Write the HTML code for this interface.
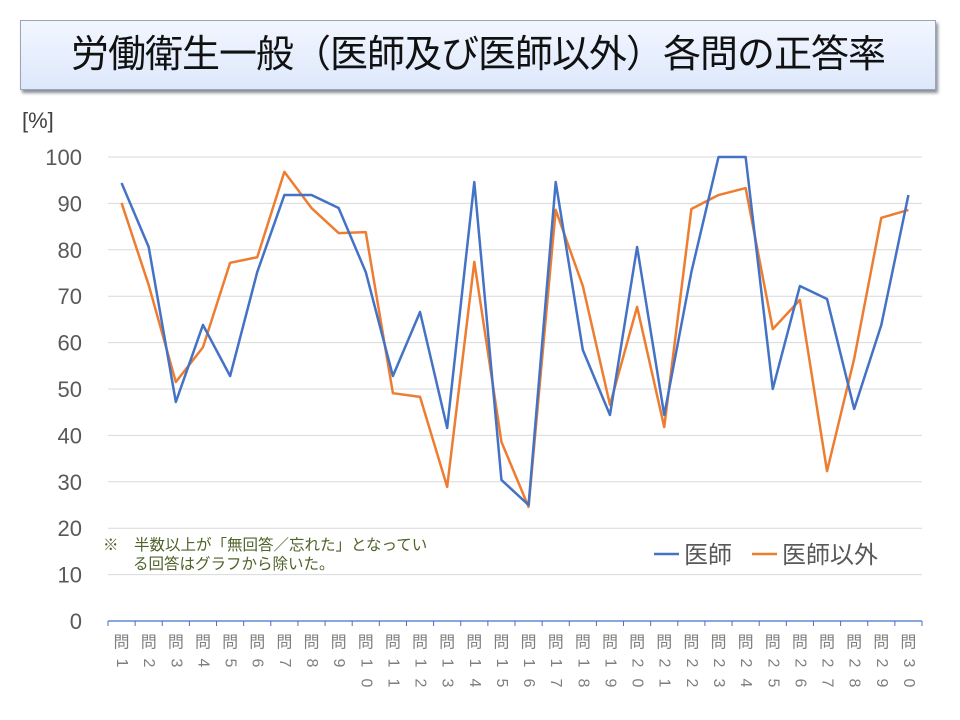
<!DOCTYPE html>
<html><head><meta charset="utf-8"><style>
body{margin:0;width:960px;height:720px;background:#fff;overflow:hidden;font-family:"Liberation Sans","Noto Sans CJK JP",sans-serif;}
#title{position:absolute;left:20px;top:20px;width:916px;height:70px;background:linear-gradient(#f2f6ff,#dde8fb);border:1px solid #9aa6b8;box-shadow:2px 3px 3px #8a8f99;box-sizing:border-box;text-align:center;line-height:68px;font-size:38px;color:#111;letter-spacing:-1px;}
</style></head><body>
<div id="title">労働衛生一般（医師及び医師以外）各問の正答率</div>
<svg id="chart" width="960" height="720" style="position:absolute;left:0;top:0"></svg>
<script>
const categories=[];for(let i=1;i<=30;i++)categories.push('問'+i);
const doctorValues=[94.4,80.6,47.2,63.8,52.8,75.2,91.8,91.8,89,75.2,52.8,66.6,41.6,94.6,30.4,25,94.6,58.4,44.4,80.6,44.4,75.2,100,100,50,72.2,69.4,45.7,63.8,91.8];
const nonDoctorValues=[90.1,72.4,51.5,59,77.2,78.4,96.8,89,83.6,83.8,49.1,48.3,28.9,77.4,38.6,24.6,88.6,72.2,46.6,67.7,41.8,88.8,91.8,93.3,62.9,69.2,32.3,56.5,86.9,88.6];
const yTicks=[0,10,20,30,40,50,60,70,80,90,100];
const NS='http://www.w3.org/2000/svg';
const svg=document.getElementById('chart');
const L=108,R=922,T=157,B=621;
const step=(R-L)/categories.length;
const xs=i=>L+step*(i+0.5);
const ys=v=>B-(B-T)*v/100;
function mk(t,a,p){const e=document.createElementNS(NS,t);for(const k in a)e.setAttribute(k,a[k]);(p||svg).appendChild(e);return e;}
yTicks.forEach(v=>{
 if(v>0){const g=mk('line',{x1:L,x2:R,y1:ys(v),y2:ys(v),stroke:'#d9d9d9','stroke-width':1});
 
 }
 const t=mk('text',{x:82,y:ys(v)+8,'text-anchor':'end','font-size':22,fill:'#595959'});
 t.textContent=v;
 
 
});
const u=mk('text',{x:22,y:128,'font-size':22,fill:'#404040'});u.textContent='[%]';


const ax=mk('line',{x1:L,x2:R,y1:B,y2:B,stroke:'#4472c4','stroke-width':1.2});


for(let i=0;i<=categories.length;i++){const tk=mk('line',{x1:L+step*i,x2:L+step*i,y1:B,y2:B+5,stroke:'#4472c4','stroke-width':1});

}
categories.forEach((c,i)=>{
 const g=mk('g',{});
 
 
 [...c].forEach((ch,k)=>{
  const y=643+k*20, x=xs(i);
  const t=mk('text',{x:x,y:y,'text-anchor':'middle','dominant-baseline':'central','font-size':16,fill:'#7f7f7f'},g);
  if(k>0)t.setAttribute('transform','rotate(90 '+x+' '+y+')');
  t.textContent=ch;
 });
});
function series(vals,color,name){
 const p=mk('polyline',{points:vals.map((v,i)=>xs(i)+','+ys(v)).join(' '),fill:'none',stroke:color,'stroke-width':2.5,'stroke-linejoin':'round'});
 
 
}
series(nonDoctorValues,'#ed7d31','series-non-doctor');
series(doctorValues,'#4472c4','series-doctor');
const n1=mk('text',{x:103,y:550,'font-size':15.5,fill:'#4f6228'});n1.textContent='※　半数以上が「無回答／忘れた」となってい';


const n2=mk('text',{x:133,y:569,'font-size':15.5,fill:'#4f6228'});n2.textContent='る回答はグラフから除いた。';


[[654,'#4472c4','医師','legend-doctor'],[752,'#ed7d31','医師以外','legend-non-doctor']].forEach(([x,c,t,n])=>{
 const g=mk('g',{});
 
 
 mk('line',{x1:x,x2:x+25,y1:554,y2:554,stroke:c,'stroke-width':2.5},g);
 const tx=mk('text',{x:x+30,y:563,'font-size':24,fill:'#595959'},g);tx.textContent=t;
});
</script>
</body></html>
